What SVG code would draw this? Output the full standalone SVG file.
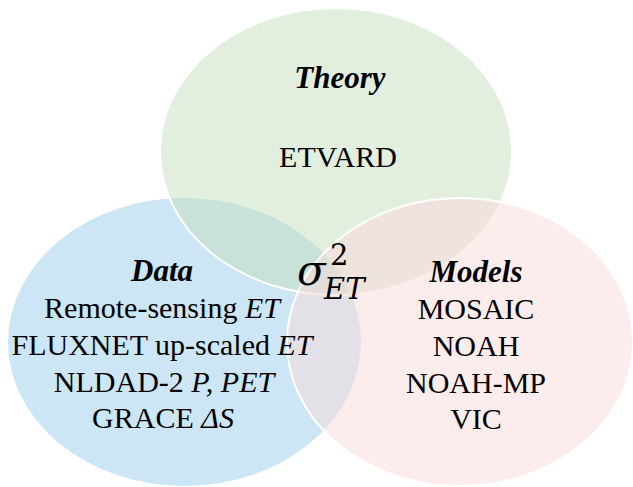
<svg xmlns="http://www.w3.org/2000/svg" width="633" height="487" viewBox="0 0 633 487">
<style>
.t{fill:#000;text-anchor:middle}
.h{font-size:31px;font-weight:bold;font-style:italic}
.l{font-size:30px}
.i{font-style:italic}
</style>
<rect width="633" height="487" fill="#fff"/>
<g id="data">
<ellipse cx="184.5" cy="342" rx="176.5" ry="144" fill="#cde6f5"/>
</g>
<g id="theory">
<ellipse cx="336" cy="151.5" rx="176" ry="143.5" fill="rgb(195,222,188)" fill-opacity="0.48" stroke="#fff" stroke-width="2"/>
</g>
<g id="models">
<ellipse cx="460" cy="342" rx="173" ry="144" fill="rgb(249,218,218)" fill-opacity="0.52" stroke="#fff" stroke-width="2"/>
</g>
<g font-family="'Liberation Serif', 'Times New Roman', serif">
<g id="theory-text">
<text class="t h" x="340" y="88">Theory</text>
<text class="t l" x="338" y="167">ETVARD</text>
</g>
<g id="data-text">
<text class="t h" x="162" y="281">Data</text>
<text class="t l" x="162" y="318">Remote-sensing <tspan class="i">ET</tspan></text>
<text class="t l" x="162" y="355">FLUXNET up-scaled <tspan class="i">ET</tspan></text>
<text class="t l" x="164" y="392">NLDAD-2 <tspan class="i">P, PET</tspan></text>
<text class="t l" x="163" y="428">GRACE <tspan class="i">ΔS</tspan></text>
</g>
<g id="models-text">
<text class="t h" x="476" y="282">Models</text>
<text class="t l" x="476" y="319">MOSAIC</text>
<text class="t l" x="476" y="356">NOAH</text>
<text class="t l" x="476" y="393">NOAH-MP</text>
<text class="t l" x="476" y="429">VIC</text>
</g>
</g>
<g id="sigma">
<text font-family="'DejaVu Serif', 'Liberation Serif', serif" fill="#000" x="297" y="285"><tspan font-size="42" font-style="italic">σ</tspan><tspan x="330" y="265" font-size="29">2</tspan><tspan x="324" y="299" font-size="29" font-style="italic">ET</tspan></text>
</g>
</svg>
